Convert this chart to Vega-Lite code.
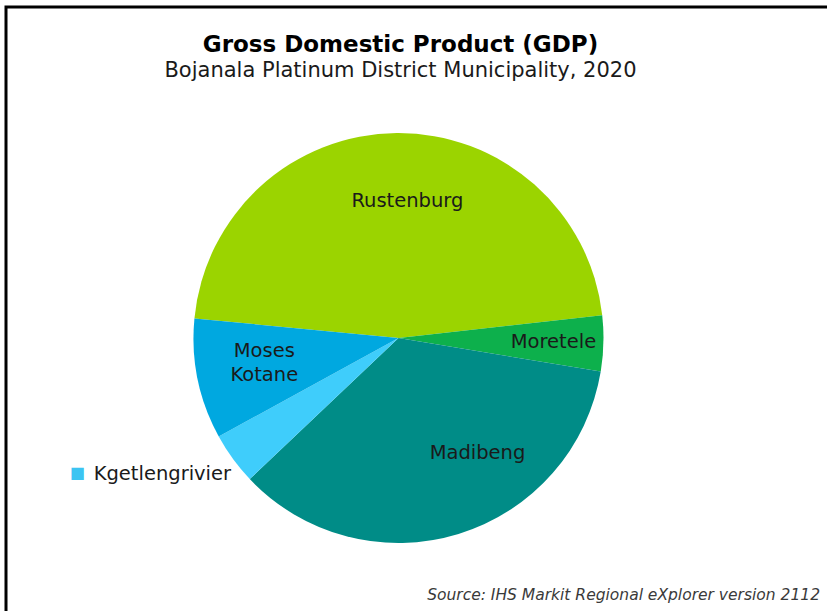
{
  "$schema": "https://vega.github.io/schema/vega-lite/v6.json",
  "description": "GDP share by local municipality, Bojanala Platinum District, 2020",
  "autosize": {"type": "none"},
  "padding": {"left": 6, "top": 7, "right": 0, "bottom": 0},
  "width": 825,
  "height": 662,
  "background": "white",
  "config": {
    "view": {"stroke": "#000000", "strokeWidth": 3},
    "font": "DejaVu Sans"
  },
  "title": {
    "text": "Gross Domestic Product (GDP)",
    "subtitle": "Bojanala Platinum District Municipality, 2020",
    "anchor": "middle",
    "frame": "group",
    "font": "DejaVu Sans",
    "fontSize": 23,
    "fontWeight": "bold",
    "color": "#000000",
    "subtitleFont": "DejaVu Sans",
    "subtitleFontSize": 21,
    "subtitleColor": "#1a1a1a",
    "subtitlePadding": 3,
    "offset": 0,
    "dx": -18,
    "dy": 74
  },
  "data": {
    "values": [
      {"name": "Rustenburg", "share": 46.7, "ord": 1},
      {"name": "Moretele", "share": 4.4, "ord": 2},
      {"name": "Madibeng", "share": 35.3, "ord": 3},
      {"name": "Kgetlengrivier", "share": 4.1, "ord": 4},
      {"name": "Moses Kotane", "share": 9.5, "ord": 5}
    ]
  },
  "layer": [
    {
      "mark": {"type": "arc", "outerRadius": 205, "x": {"expr": "width/2 - 20"}},
      "encoding": {
        "theta": {"field": "share", "type": "quantitative", "stack": true, "scale": {"range": [4.808, 11.091]}},
        "order": {"field": "ord", "type": "quantitative"},
        "color": {
          "field": "name", "type": "nominal", "legend": null,
          "scale": {
            "domain": ["Rustenburg", "Moretele", "Madibeng", "Kgetlengrivier", "Moses Kotane"],
            "range": ["#9bd400", "#0db04c", "#008c87", "#3fcdfb", "#00a8e0"]
          }
        }
      }
    },
    {
      "mark": {"type": "text", "radius": 137, "dx": 10, "fontSize": 19.5, "color": "#1a1a1a", "x": {"expr": "width/2 - 20"}},
      "encoding": {
        "theta": {"field": "share", "type": "quantitative", "stack": true},
        "order": {"field": "ord", "type": "quantitative"},
        "text": {"condition": {"test": "datum.name === 'Rustenburg'", "field": "name"}, "value": ""}
      }
    },
    {
      "mark": {"type": "text", "radius": 155, "fontSize": 19.5, "color": "#1a1a1a", "x": {"expr": "width/2 - 20"}},
      "encoding": {
        "theta": {"field": "share", "type": "quantitative", "stack": true},
        "order": {"field": "ord", "type": "quantitative"},
        "text": {"condition": {"test": "datum.name === 'Moretele'", "field": "name"}, "value": ""}
      }
    },
    {
      "mark": {"type": "text", "radius": 140, "dx": 38, "dy": -19, "fontSize": 19.5, "color": "#1a1a1a", "x": {"expr": "width/2 - 20"}},
      "encoding": {
        "theta": {"field": "share", "type": "quantitative", "stack": true},
        "order": {"field": "ord", "type": "quantitative"},
        "text": {"condition": {"test": "datum.name === 'Madibeng'", "field": "name"}, "value": ""}
      }
    },
    {
      "mark": {"type": "text", "radius": 137, "dy": -15, "fontSize": 19.5, "lineBreak": "\n", "lineHeight": 24, "color": "#1a1a1a", "x": {"expr": "width/2 - 20"}},
      "encoding": {
        "theta": {"field": "share", "type": "quantitative", "stack": true},
        "order": {"field": "ord", "type": "quantitative"},
        "text": {"condition": {"test": "datum.name === 'Moses Kotane'", "value": "Moses\nKotane"}, "value": ""}
      }
    },
    {
      "mark": {"type": "text", "radius": 270, "dx": -18, "dy": -23, "fontSize": 19.5, "color": "#1a1a1a", "x": {"expr": "width/2 - 20"}},
      "encoding": {
        "theta": {"field": "share", "type": "quantitative", "stack": true},
        "order": {"field": "ord", "type": "quantitative"},
        "text": {"condition": {"test": "datum.name === 'Kgetlengrivier'", "field": "name"}, "value": ""}
      }
    },
    {
      "mark": {"type": "text", "radius": 270, "dx": -103, "dy": -24, "fontSize": 16, "color": "#3cc4f2", "x": {"expr": "width/2 - 20"}},
      "encoding": {
        "theta": {"field": "share", "type": "quantitative", "stack": true},
        "order": {"field": "ord", "type": "quantitative"},
        "text": {"condition": {"test": "datum.name === 'Kgetlengrivier'", "value": "■"}, "value": ""}
      }
    },
    {
      "data": {"values": [{"src": "Source: IHS Markit Regional eXplorer version 2112"}]},
      "mark": {"type": "text", "align": "right", "baseline": "alphabetic", "fontSize": 15.5, "fontStyle": "italic", "color": "#3a3a3a"},
      "encoding": {
        "text": {"field": "src"},
        "x": {"value": 814},
        "y": {"value": 593}
      }
    }
  ]
}
